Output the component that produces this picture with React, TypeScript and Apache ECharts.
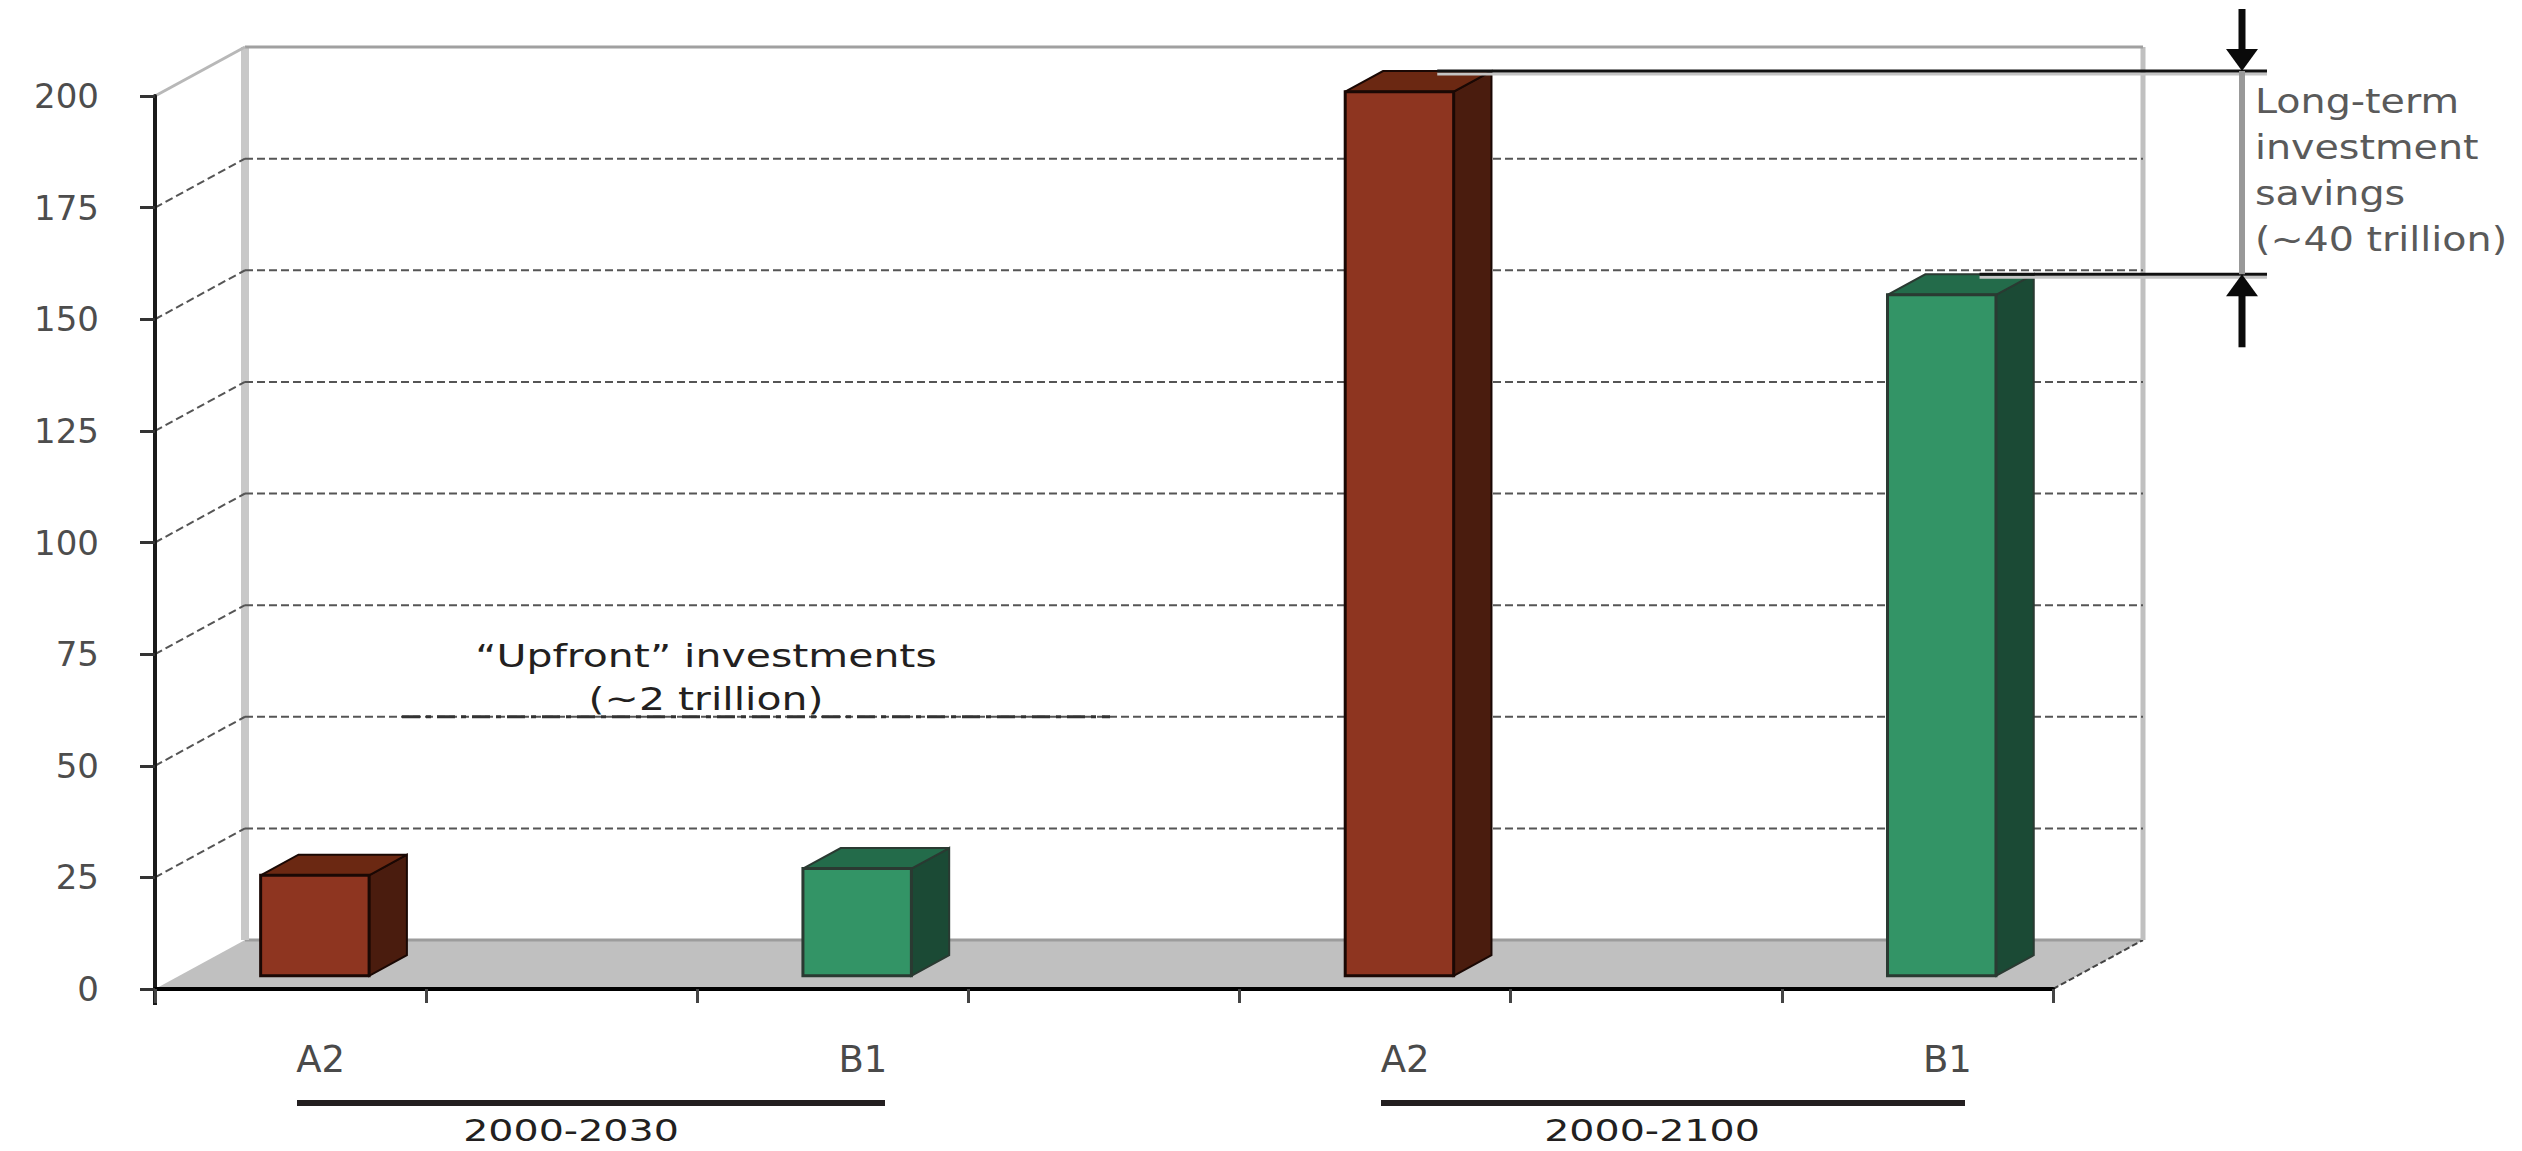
import React, { useEffect, useRef } from 'react';
import * as echarts from 'echarts';

// ---------- data ----------
const categories = ['A2', '', 'B1', '', 'A2', '', 'B1'];
const scenarioOfCategory = ['A2', null, 'B1', null, 'A2', null, 'B1'];
const investment = [22.5, null, 24, null, 198, null, 152.5];
const periodLabels = ['2000-2030', '2000-2100'];
const upfrontText = ['\u201CUpfront\u201D investments', '(~2 trillion)'];
const savingsText = ['Long-term', 'investment', 'savings', '(~40 trillion)'];
const savingsPair = [4, 6];
const yMin = 0;
const yMax = 200;
const yInterval = 25;

// ---------- style ----------
const W = 2522;
const H = 1151;
const GRID = { left: 155, top: 96, width: 1898, height: 893 };
const DX = 90; // floor depth
const DY = 49;
const FRONT_F = 0.27; // bar front depth fraction
const BAR_F = 0.42; // bar depth fraction
const COLORS: Record<string, any> = {
  A2: { front: '#8e3520', side: '#4a1c0e', top: '#6b2812', edge: '#1a0804' },
  B1: { front: '#339466', side: '#1b4a35', top: '#236b4a', edge: '#2a3a32' },
};
const FONT = 'DejaVu Sans';

export default function App() {
  const ref = useRef<HTMLDivElement>(null);

  useEffect(() => {
    if (!ref.current) return;
    const chart = echarts.init(ref.current, null, { renderer: 'svg' });

    const barData = investment
      .map((v, i) => (v == null ? null : [i, v]))
      .filter((d) => d != null);

    const ticks: number[] = [];
    for (let v = yMin; v <= yMax; v += yInterval) ticks.push(v);

    const frameRender = (params: any, api: any) => {
      const cs = params.coordSys;
      const x0 = cs.x;
      const x1 = cs.x + cs.width;
      const yb = cs.y + cs.height;
      const yTop = api.coord([0, yMax])[1];
      const children: any[] = [];
      // floor
      children.push({
        type: 'polygon',
        shape: { points: [[x0, yb], [x1, yb], [x1 + DX, yb - DY], [x0 + DX, yb - DY]] },
        style: { fill: '#c0c0c0' },
      });
      children.push({
        type: 'line',
        shape: { x1: x0 + DX, y1: yb - DY, x2: x1 + DX, y2: yb - DY },
        style: { stroke: '#9c9c9c', lineWidth: 3 },
      });
      // floor right edge
      children.push({
        type: 'line',
        shape: { x1: x1, y1: yb, x2: x1 + DX, y2: yb - DY },
        style: { stroke: '#444', lineWidth: 2, lineDash: [6, 3] },
      });
      // back wall left & right edges
      children.push({
        type: 'line',
        shape: { x1: x0 + DX, y1: yTop - DY, x2: x0 + DX, y2: yb - DY },
        style: { stroke: '#c8c8c8', lineWidth: 8 },
      });
      children.push({
        type: 'line',
        shape: { x1: x1 + DX, y1: yTop - DY, x2: x1 + DX, y2: yb - DY },
        style: { stroke: '#c0c0c0', lineWidth: 5 },
      });
      // top edges
      children.push({
        type: 'line',
        shape: { x1: x0 + DX, y1: yTop - DY, x2: x1 + DX, y2: yTop - DY },
        style: { stroke: '#a0a0a0', lineWidth: 3 },
      });
      children.push({
        type: 'line',
        shape: { x1: x0, y1: yTop, x2: x0 + DX, y2: yTop - DY },
        style: { stroke: '#b8b8b8', lineWidth: 3 },
      });
      // y axis extension below the floor
      children.push({
        type: 'line',
        shape: { x1: x0, y1: yb, x2: x0, y2: yb + 16 },
        style: { stroke: '#1a1a1a', lineWidth: 4 },
      });
      // gridlines
      ticks.forEach((v) => {
        if (v === yMin || v === yMax) return;
        const y = api.coord([0, v])[1];
        children.push({
          type: 'line',
          shape: { x1: x0, y1: y, x2: x0 + DX, y2: y - DY },
          style: { stroke: '#555', lineWidth: 2, lineDash: [8, 4] },
        });
        children.push({
          type: 'line',
          shape: { x1: x0 + DX, y1: y - DY, x2: x1 + DX, y2: y - DY },
          style: { stroke: '#555', lineWidth: 2, lineDash: [8, 4] },
        });
      });
      return { type: 'group', children };
    };

    const barRender = (params: any, api: any) => {
      const i = api.value(0);
      const v = api.value(1);
      const base = api.coord([i, 0]);
      const top = api.coord([i, v]);
      const cw = api.size([1, 0])[0];
      const w = cw * 0.4;
      const fx = base[0] + DX * FRONT_F;
      const yb = base[1] - DY * FRONT_F;
      const h = base[1] - top[1];
      const xl = fx - w / 2;
      const xr = fx + w / 2;
      const yt = yb - h;
      const bdx = DX * BAR_F;
      const bdy = DY * BAR_F;
      const c = COLORS[scenarioOfCategory[i] as string];
      return {
        type: 'group',
        children: [
          {
            type: 'polygon',
            shape: { points: [[xr, yt], [xr + bdx, yt - bdy], [xr + bdx, yb - bdy], [xr, yb]] },
            style: { fill: c.side, stroke: c.edge, lineWidth: 2 },
          },
          {
            type: 'polygon',
            shape: { points: [[xl, yt], [xr, yt], [xr + bdx, yt - bdy], [xl + bdx, yt - bdy]] },
            style: { fill: c.top, stroke: c.edge, lineWidth: 2 },
          },
          {
            type: 'rect',
            shape: { x: xl, y: yt, width: w, height: h },
            style: { fill: c.front, stroke: c.edge, lineWidth: 3 },
          },
        ],
      };
    };

    const annotRender = (params: any, api: any) => {
      const cs = params.coordSys;
      const x1 = cs.x + cs.width;
      const children: any[] = [];
      const ys: number[] = [];
      savingsPair.forEach((i) => {
        const v = investment[i] as number;
        const base = api.coord([i, 0]);
        const top = api.coord([i, v]);
        const yb = base[1] - DY * FRONT_F;
        const yt = yb - (base[1] - top[1]) - DY * BAR_F;
        const xs = base[0] + DX * FRONT_F + DX * BAR_F;
        ys.push(yt);
        children.push({
          type: 'line',
          shape: { x1: xs, y1: yt + 3, x2: x1 + 214, y2: yt + 3 },
          style: { stroke: '#c4c4c4', lineWidth: 3 },
        });
        children.push({
          type: 'line',
          shape: { x1: xs, y1: yt, x2: x1 + 214, y2: yt },
          style: { stroke: '#111', lineWidth: 3 },
        });
      });
      const ax = x1 + 189;
      const yA = Math.min(ys[0], ys[1]);
      const yB = Math.max(ys[0], ys[1]);
      children.push({
        type: 'line',
        shape: { x1: ax, y1: yA, x2: ax, y2: yB },
        style: { stroke: '#999', lineWidth: 6 },
      });
      children.push({
        type: 'line',
        shape: { x1: ax, y1: 9, x2: ax, y2: yA - 12 },
        style: { stroke: '#0a0a0a', lineWidth: 7 },
      });
      children.push({
        type: 'polygon',
        shape: { points: [[ax - 16, yA - 22], [ax + 16, yA - 22], [ax, yA]] },
        style: { fill: '#0a0a0a' },
      });
      children.push({
        type: 'line',
        shape: { x1: ax, y1: yB + 12, x2: ax, y2: yB + 73 },
        style: { stroke: '#0a0a0a', lineWidth: 7 },
      });
      children.push({
        type: 'polygon',
        shape: { points: [[ax - 16, yB + 22], [ax + 16, yB + 22], [ax, yB]] },
        style: { fill: '#0a0a0a' },
      });
      // upfront leader over the 50 gridline
      const y50 = api.coord([0, 50])[1] - DY;
      children.push({
        type: 'line',
        shape: { x1: cs.x + 247, y1: y50, x2: cs.x + 955, y2: y50 },
        style: { stroke: '#333', lineWidth: 3, lineDash: [18, 6, 5, 6] },
      });
      return { type: 'group', children };
    };

    const textStyle = (text: string, align: string, size: number) => ({
      text,
      fill: '#231f20',
      font: `${size}px "${FONT}"`,
      align,
      textAlign: align,
      verticalAlign: 'middle',
      textVerticalAlign: 'middle',
    });

    const graphics: any[] = [];
    // period groups
    const groups = [
      { label: periodLabels[0], x1: 297, x2: 885, cx: 571 },
      { label: periodLabels[1], x1: 1381, x2: 1965, cx: 1652 },
    ];
    groups.forEach((g) => {
      graphics.push({
        type: 'line',
        shape: { x1: g.x1, y1: 1103, x2: g.x2, y2: 1103 },
        style: { stroke: '#231f20', lineWidth: 6 },
      });
      graphics.push({
        type: 'text',
        x: g.cx,
        y: 1130,
        scaleX: 1.32,
        style: textStyle(g.label, 'center', 30),
      });
    });
    upfrontText.forEach((t, k) => {
      graphics.push({
        type: 'text',
        x: 706,
        y: 656 + k * 43,
        scaleX: 1.28,
        style: textStyle(t, 'center', 32),
      });
    });
    savingsText.forEach((t, k) => {
      graphics.push({
        type: 'text',
        x: 2255,
        y: 102 + k * 46,
        scaleX: 1.2,
        style: { ...textStyle(t, 'left', 33), fill: '#5a5a5a' },
      });
    });

    chart.setOption({
      animation: false,
      backgroundColor: '#ffffff',
      grid: { ...GRID },
      xAxis: {
        type: 'category',
        data: categories,
        boundaryGap: true,
        axisLine: { show: true, lineStyle: { color: '#000', width: 4 } },
        axisTick: { show: true, interval: 0, length: 14, lineStyle: { color: '#444', width: 3 } },
        axisLabel: {
          show: true,
          interval: 0,
          margin: 52,
          padding: [0, 0, 0, 60],
          color: '#4a4a4a',
          fontFamily: FONT,
          fontSize: 37,
        },
        splitLine: { show: false },
        z: 5,
      },
      yAxis: {
        type: 'value',
        min: yMin,
        max: yMax,
        interval: yInterval,
        axisLine: { show: true, lineStyle: { color: '#1a1a1a', width: 4 } },
        axisTick: { show: true, length: 15, lineStyle: { color: '#333', width: 3 } },
        axisLabel: { show: true, margin: 56, color: '#4d4d4d', fontFamily: FONT, fontSize: 34 },
        splitLine: { show: false },
        z: 5,
      },
      series: [
        {
          type: 'custom',
          name: 'frame',
          data: [[0, 0]],
          encode: { x: 0, y: 1 },
          clip: false,
          silent: true,
          z: 1,
          renderItem: frameRender,
        },
        {
          type: 'custom',
          name: 'investment',
          data: barData,
          encode: { x: 0, y: 1 },
          clip: false,
          z: 3,
          renderItem: barRender,
        },
        {
          type: 'custom',
          name: 'annotation',
          data: [[0, 0]],
          encode: { x: 0, y: 1 },
          clip: false,
          silent: true,
          z: 4,
          renderItem: annotRender,
        },
      ],
      graphic: graphics,
    });

    return () => chart.dispose();
  }, []);

  return (
    <div
      ref={ref}
      style={{ position: 'fixed', left: 0, top: 0, width: W, height: H, background: '#fff' }}
    />
  );
}
